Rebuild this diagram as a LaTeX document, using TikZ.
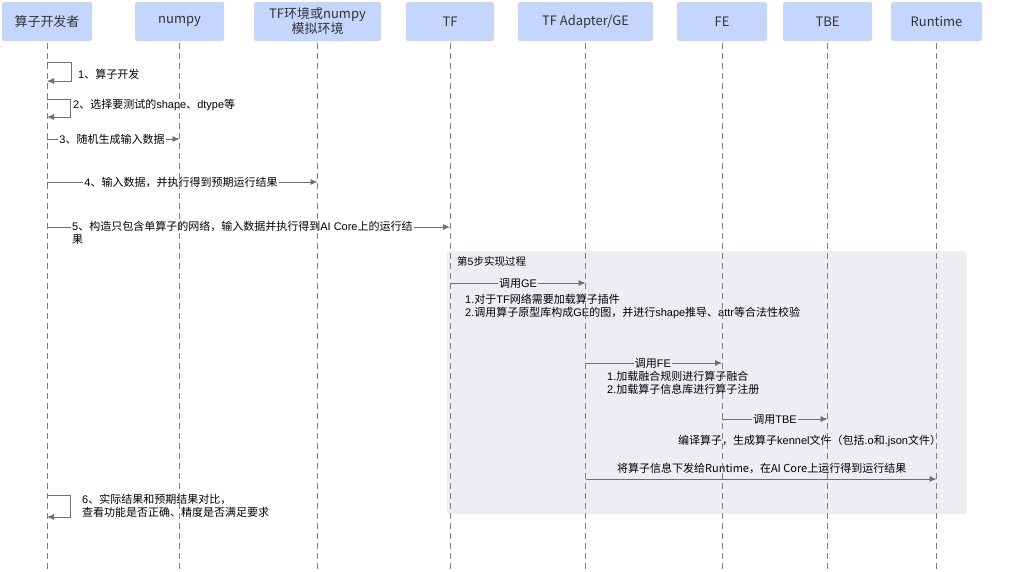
\documentclass[tikz,border=0pt]{standalone}
\usepackage{fontspec}
\setmainfont{Noto Sans CJK SC}
\newfontfamily\lat{Liberation Sans}
\usepackage{xcolor}
\usetikzlibrary{arrows.meta}

\definecolor{headblue}{HTML}{C5D6FC}
\definecolor{boxgray}{HTML}{EDEEF2}
\definecolor{lifegray}{HTML}{7F7F85}
\definecolor{msggray}{HTML}{6E6E73}
\definecolor{txtgray}{HTML}{333333}

\tikzset{
  actor/.style={fill=headblue, rounded corners=2pt, minimum height=39pt,
    inner sep=0pt, text=txtgray, font=\fontsize{13pt}{15pt}\selectfont, align=center},
  life/.style={lifegray, dash pattern=on 6pt off 4pt, line width=0.8pt},
  msg/.style={msggray, line width=0.8pt, -{Latex[length=7pt,width=6pt]}},
  lbl/.style={fill=white, inner sep=1pt, text=black, font=\fontsize{11pt}{13pt}\selectfont, align=left},
  note/.style={inner sep=1pt, text=black, font=\fontsize{11pt}{13pt}\selectfont, align=left}
}

\begin{document}
\begin{tikzpicture}[x=1pt, y=-1pt]
  \useasboundingbox (0,0) rectangle (1015,571);

  % Header boxes
  \node[actor, minimum width=90pt] (dev) at (47,21.5) {算子开发者};
  \node[actor, minimum width=89pt] (np) at (179.5,21.5) {numpy};
  \node[actor, minimum width=127pt] (env) at (317.5,21.5) {TF环境或numpy\\模拟环境};
  \node[actor, minimum width=88pt] (tf) at (450,21.5) {TF};
  \node[actor, minimum width=135pt] (ada) at (585.5,21.5) {TF Adapter/GE};
  \node[actor, minimum width=90pt] (fe) at (722,21.5) {FE};
  \node[actor, minimum width=89pt] (tbe) at (827.5,21.5) {TBE};
  \node[actor, minimum width=91pt] (rt) at (936.5,21.5) {Runtime};

  % Background of step 5
  \fill[boxgray, rounded corners=2pt] (447,251) rectangle (967,514);
  \node[note, anchor=west, font=\fontsize{10.5pt}{12pt}\selectfont] (title) at (456,261) {第{\lat 5}步实现过程};

  % 1 and 2: self calls
  \draw[msg] (dev |- 0,62) -- (71,62) -- (71,81) -- (dev |- 0,81);
  \node[note, anchor=west] (m1) at (77,74) {{\lat 1}、算子开发};
  \draw[msg] (dev |- 0,99) -- (70,99) -- (70,117) -- (dev |- 0,117);
  \node[note, anchor=west] (m2) at (72,105) {{\lat 2}、选择要测试的{\lat shape}、{\lat dtype}等};

  % 3, 4, 5
  \draw[msg] (dev |- 0,139) -- (np |- 0,139);
  \node[lbl] (m3) at (112,139) {{\lat 3}、随机生成输入数据};
  \draw[msg] (dev |- 0,182) -- (env |- 0,182);
  \node[lbl] (m4) at (181,182) {{\lat 4}、输入数据，并执行得到预期运行结果};
  \draw[msg] (dev |- 0,227) -- (tf |- 0,227);
  \node[lbl, anchor=north west] (m5) at (71,220) {{\lat 5}、构造只包含单算子的网络，输入数据并执行得到{\lat AI Core}上的运行结\\果};

  % inside step 5
  \draw[msg] (tf |- 0,283) -- (ada |- 0,283);
  \node[lbl, fill=boxgray] (ge) at (518,283) {调用{\lat GE}};
  \node[note, anchor=north west] (genote) at (464,293) {{\lat 1.}对于{\lat TF}网络需要加载算子插件\\{\lat 2.}调用算子原型库构成{\lat GE}的图，并进行{\lat shape}推导、{\lat attr}等合法性校验};

  \draw[msg] (ada |- 0,363) -- (fe |- 0,363);
  \node[lbl, fill=boxgray] (fecall) at (653,363) {调用{\lat FE}};
  \node[note, anchor=north west] (fenote) at (606,370) {{\lat 1.}加载融合规则进行算子融合\\{\lat 2.}加载算子信息库进行算子注册};

  \draw[msg] (fe |- 0,419) -- (tbe |- 0,419);
  \node[lbl, fill=boxgray] (tbecall) at (775,419) {调用{\lat TBE}};
  \node[note, anchor=west] (tbenote) at (677,441) {编译算子，生成算子{\lat kennel}文件（包括{\lat .o}和{\lat .json}文件）};

  \draw[msg] (ada |- 0,479) -- (rt |- 0,479);
  \node[note, anchor=west] (rtcall) at (616,468) {将算子信息下发给Runtime，在AI Core上运行得到运行结果};

  % 6: compare
  \draw[msg] (dev |- 0,495) -- (70,495) -- (70,517) -- (dev |- 0,517);
  \node[note, anchor=north west] (m6) at (81,493) {{\lat 6}、实际结果和预期结果对比，\\查看功能是否正确、精度是否满足要求};

  % Lifelines on top
  \foreach \who in {dev,np,env,tf,ada,fe,tbe,rt}
    \draw[life] (\who.south) ++(0,2) -- (\who |- 0,571);
\end{tikzpicture}
\end{document}
